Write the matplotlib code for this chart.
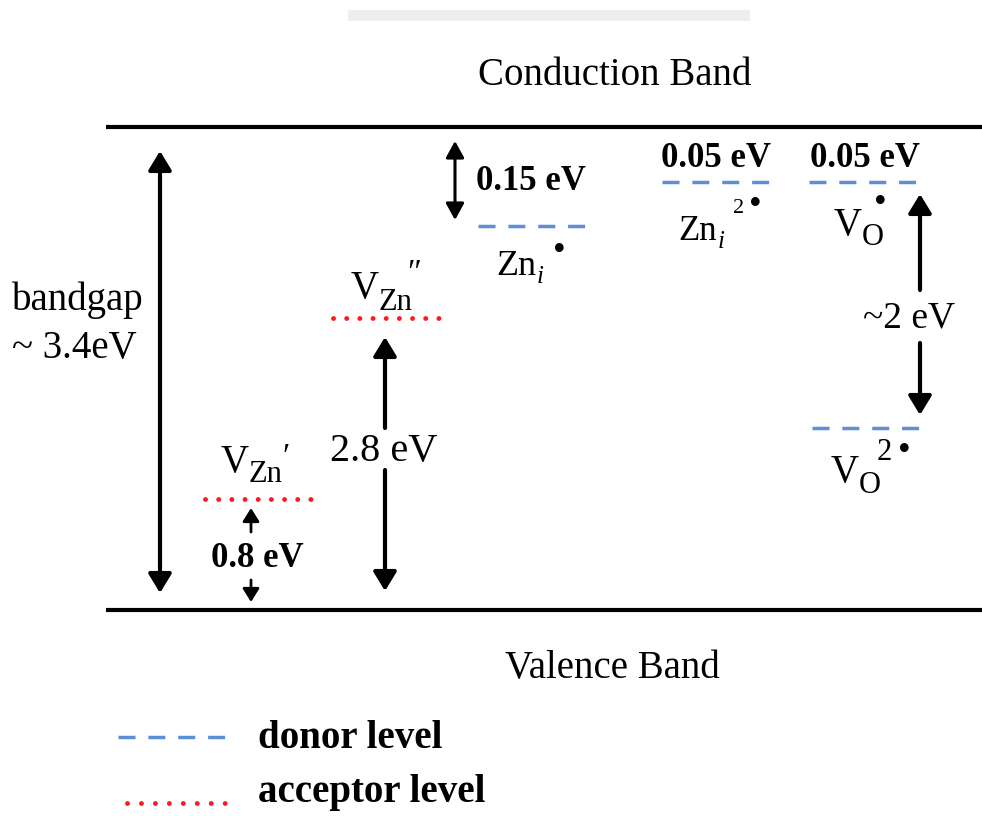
import matplotlib.pyplot as plt
from matplotlib.patches import Rectangle

plt.rcParams['font.family'] = ['Liberation Serif', 'DejaVu Serif']

# ZnO defect levels (schematic, not to scale)
BANDGAP_LABEL = "~ 3.4eV"
donor_labels = ["0.15 eV", "0.05 eV", "0.05 eV", "~2 eV"]
acceptor_labels = ["0.8 eV", "2.8 eV"]

# diagram frame in pixels, y grows downward
CB_Y, VB_Y = 127, 610
BAND_X = [106, 982]

# donor levels: Zn_i, Zn_i(2), V_O, V_O(2)
donor_x0 = [478, 662, 809, 812]
donor_x1 = [588, 772, 917, 920]
donor_y = [226, 182, 182, 428]

# acceptor levels: V_Zn', V_Zn''
acceptor_x0 = [205, 333]
acceptor_x1 = [313, 441]
acceptor_y = [499, 318]

BLUE = '#5d8fd5'
RED = '#ff1a1a'

fig = plt.figure(figsize=(9.82, 8.16), dpi=100)
ax = fig.add_axes([0, 0, 1, 1])
ax.set_xlim(0, 982)
ax.set_ylim(816, 0)
ax.axis('off')

# faint strip left over at the top of the original figure
ax.add_patch(Rectangle((348, 10), 402, 11, color='#eeeeee', lw=0))

# band edges
ax.plot(BAND_X, [CB_Y, CB_Y], color='black', lw=3, solid_capstyle='butt')
ax.plot(BAND_X, [VB_Y, VB_Y], color='black', lw=3, solid_capstyle='butt')

donor_style = dict(color=BLUE, lw=2.5, linestyle=(0, (4.9, 3.7)), dash_capstyle='butt')
acceptor_style = dict(color=RED, lw=3.5, linestyle=(0, (0.01, 2.7)), dash_capstyle='round')

for x0, x1, y in zip(donor_x0, donor_x1, donor_y):
    ax.plot([x0, x1], [y, y], **donor_style)
for x0, x1, y in zip(acceptor_x0, acceptor_x1, acceptor_y):
    ax.plot([x0, x1], [y, y], **acceptor_style)


def arrow(x, y_from, y_to, style='-|>', lw=3, hl=1.15, hw=0.7):
    ax.annotate('', xy=(x, y_to), xytext=(x, y_from),
                arrowprops=dict(arrowstyle=f'{style},head_length={hl},head_width={hw}',
                                lw=lw, color='black', shrinkA=0, shrinkB=0,
                                mutation_scale=10))


def txt(x, y, s, size, weight='normal', ha='left', va='baseline', style='normal'):
    ax.text(x, y, s, fontsize=size, fontweight=weight, ha=ha, va=va, fontstyle=style)


# bandgap
arrow(160, 593, 151, style='<|-|>')
txt(12, 310, "bandgap", 28)
txt(12, 358, BANDGAP_LABEL, 28)

# V_Zn'
arrow(251, 532, 508, lw=2, hl=0.8, hw=0.5)
arrow(251, 580, 602, lw=2, hl=0.8, hw=0.5)
txt(257, 567, acceptor_labels[0], 25, 'bold', ha='center')

# V_Zn''
arrow(385, 428, 337)
arrow(385, 470, 591)
txt(384, 461, acceptor_labels[1], 29, ha='center')

# Zn_i
arrow(455, 141, 220, style='<|-|>', lw=2.2, hl=1.0, hw=0.55)
txt(476, 190, donor_labels[0], 25, 'bold')

# Zn_i(2), V_O
txt(716, 167, donor_labels[1], 25, 'bold', ha='center')
txt(865, 167, donor_labels[2], 25, 'bold', ha='center')

# V_O -> V_O(2)
arrow(920, 290, 194)
arrow(920, 343, 415)
txt(863, 328, donor_labels[3], 27)

# defect labels
txt(351, 298, "V", 28)
txt(379, 310, "Zn", 22)
txt(407, 259, "\u2033", 24, va='top')

txt(221, 472, "V", 28)
txt(249, 482, "Zn", 22)
txt(282, 443, "\u2032", 24, va='top')

txt(496, 275, "Zn", 26)
txt(537, 283, "i", 18, style='italic')
txt(559, 251, "\u2022", 26, ha='center', va='center')

txt(678, 240, "Zn", 25)
txt(718, 248, "i", 18, style='italic')
txt(733, 213, "2", 16)
txt(755, 206, "\u2022", 26, ha='center', va='center')

txt(834, 235, "V", 28)
txt(862, 245, "O", 22)
txt(880, 203, "\u2022", 26, ha='center', va='center')

txt(831, 482, "V", 28)
txt(859, 493, "O", 22)
txt(877, 460, "2", 22)
txt(904, 452, "\u2022", 26, ha='center', va='center')

# band names
txt(615, 85, "Conduction Band", 28, ha='center')
txt(612, 678, "Valence Band", 28, ha='center')

# legend
ax.plot([118, 228], [737, 737], **donor_style)
ax.plot([127, 225], [803, 803], color=RED, lw=3.5, linestyle=(0, (0.01, 2.86)),
        dash_capstyle='round')
txt(258, 748, "donor level", 28, 'bold')
txt(258, 802, "acceptor level", 28, 'bold')

fig.savefig('out.png', dpi=100)
